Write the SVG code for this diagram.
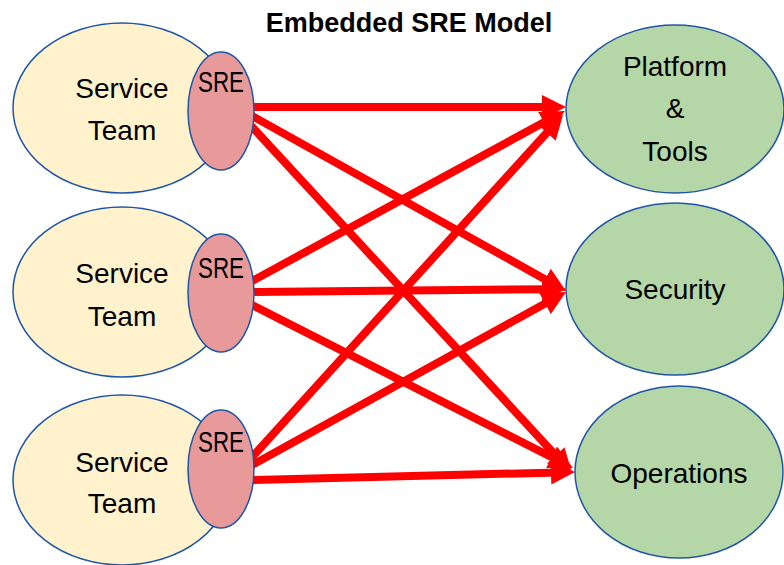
<svg xmlns="http://www.w3.org/2000/svg" width="784" height="565" viewBox="0 0 784 565">
<defs>
<style>
.team{fill:#FFF2CC;stroke:#1F55A5;stroke-width:1.5}
.sre{fill:#E89A9A;stroke:#1F55A5;stroke-width:1.5}
.svc{fill:#B5D6A7;stroke:#1F55A5;stroke-width:1.5}
.t{font-family:"Liberation Sans",Arial,sans-serif;font-size:28px;fill:#000;text-anchor:middle}
.s{font-family:"Liberation Sans",Arial,sans-serif;font-size:30px;fill:#000;text-anchor:middle}
.title{font-family:"Liberation Sans",Arial,sans-serif;font-size:27px;font-weight:bold;fill:#000;text-anchor:middle}
.c line{stroke:#FF0000;stroke-width:8;marker-end:url(#ah)}
</style>
<marker id="ah" markerUnits="userSpaceOnUse" markerWidth="24" markerHeight="24" refX="8" refY="12" orient="auto">
<path d="M0,0 L24,12 L0,24 z" fill="#FF0000"/>
</marker>
</defs>
<rect width="784" height="565" fill="#fff"/>
<text class="title" x="409" y="32">Embedded SRE Model</text>
<g id="team1"><ellipse class="team" cx="122" cy="108" rx="109" ry="85"/><text class="t" x="122" y="98">Service</text><text class="t" x="122" y="140">Team</text></g>
<g id="team2"><ellipse class="team" cx="122" cy="292" rx="109" ry="85"/><text class="t" x="122" y="283">Service</text><text class="t" x="122" y="326">Team</text></g>
<g id="team3"><ellipse class="team" cx="122" cy="480" rx="109" ry="85"/><text class="t" x="122" y="472">Service</text><text class="t" x="122" y="513">Team</text></g>
<g class="c" id="connectors">
<line x1="242" y1="107" x2="550" y2="107"/>
<line x1="242" y1="110.3" x2="552" y2="283.2"/>
<line x1="242" y1="116" x2="561.1" y2="461.3"/>
<line x1="242" y1="286.5" x2="550.9" y2="118.6"/>
<line x1="242" y1="292" x2="550" y2="289.2"/>
<line x1="242" y1="300" x2="558.7" y2="460.8"/>
<line x1="242" y1="468.2" x2="552.2" y2="126.8"/>
<line x1="242" y1="470.6" x2="552" y2="299.7"/>
<line x1="242" y1="480.3" x2="559" y2="472.4"/>
</g>
<g id="sre1"><ellipse class="sre" cx="221" cy="111" rx="33" ry="59"/><text class="s" x="221" y="92" textLength="46" lengthAdjust="spacingAndGlyphs">SRE</text></g>
<g id="sre2"><ellipse class="sre" cx="221" cy="293" rx="33" ry="59"/><text class="s" x="221" y="278" textLength="46" lengthAdjust="spacingAndGlyphs">SRE</text></g>
<g id="sre3"><ellipse class="sre" cx="221" cy="469" rx="33" ry="59"/><text class="s" x="221" y="452" textLength="46" lengthAdjust="spacingAndGlyphs">SRE</text></g>
<g id="platform"><ellipse class="svc" cx="675" cy="109" rx="109" ry="84"/><text class="t" x="675" y="76">Platform</text><text class="t" x="675" y="118">&amp;</text><text class="t" x="675" y="161">Tools</text></g>
<g id="security"><ellipse class="svc" cx="675" cy="289" rx="109" ry="86"/><text class="t" x="675" y="299">Security</text></g>
<g id="operations"><ellipse class="svc" cx="679" cy="472" rx="104" ry="86"/><text class="t" x="679" y="483">Operations</text></g>
</svg>
